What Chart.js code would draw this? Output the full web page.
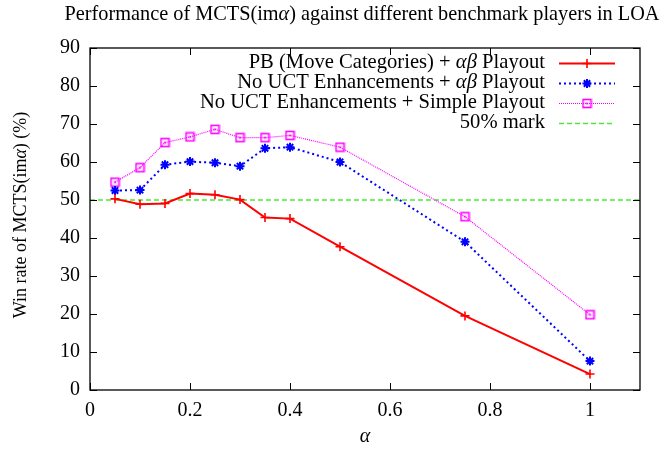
<!DOCTYPE html>
<html>
<head>
<meta charset="utf-8">
<script src="https://cdn.jsdelivr.net/npm/chart.js@4.4.1/dist/chart.umd.min.js"></script>
<style>
	html, body { margin: 0; padding: 0; background: #fff; }
	#wrap { width: 666px; height: 449px; position: relative; }
</style>
</head>
<body>
<div id="wrap"><canvas id="perf-chart" width="666" height="449"></canvas></div>
<script>
// alpha values and win rates (%)
const alphas = [0.05, 0.1, 0.15, 0.2, 0.25, 0.3, 0.35, 0.4, 0.5, 0.75, 1.0]
const pbAlphaBeta = [50.3, 48.9, 49.1, 51.7, 51.4, 50.1, 45.4, 45.1, 37.7, 19.5, 4.2]
const noUctAlphaBeta = [52.5, 52.6, 59.3, 60.1, 59.8, 58.9, 63.6, 63.9, 60.0, 39.0, 7.6]
const noUctSimple = [54.7, 58.5, 65.1, 66.6, 68.6, 66.4, 66.4, 67.0, 63.9, 45.6, 19.8]
const markX = [0, 1.1]
const markY = [50, 50]

const seriesLabels = [
	'PB (Move Categories) + αβ Playout',
	'No UCT Enhancements + αβ Playout',
	'No UCT Enhancements + Simple Playout',
	'50% mark',
]
const xTicks = [0, 0.2, 0.4, 0.6, 0.8, 1]
const yTicks = [0, 10, 20, 30, 40, 50, 60, 70, 80, 90]

const titleText = 'Performance of MCTS(imα) against different benchmark players in LOA'
const yLabel = 'Win rate of MCTS(imα) (%)'
const xLabel = 'α'

const SERIF = '"Liberation Serif", "DejaVu Serif", serif'

function pts(xs, ys) {
	return xs.map((x, i) => ({ x, y: ys[i] }))
}

// gnuplot style boxed square with a dot in the middle
function boxPoint() {
	const c = document.createElement('canvas')
	c.width = 11; c.height = 11
	const g = c.getContext('2d')
	g.strokeStyle = '#ff00ff'
	g.lineWidth = 1.6
	g.strokeRect(1.5, 1.5, 8, 8)
	g.fillStyle = '#ff00ff'
	g.fillRect(4.5, 4.5, 2, 2)
	return c
}
const boxImg = boxPoint()

// draws text with greek letters in italic
function drawMixed(ctx, text, x, y, size, align) {
	const parts = []
	for (const ch of text) {
		const greek = /[α-ω]/.test(ch)
		const last = parts[parts.length - 1]
		if (last && last.greek === greek) last.s += ch
		else parts.push({ s: ch, greek })
	}
	const fontOf = p => (p.greek ? 'italic ' : '') + size + 'px ' + SERIF
	let total = 0
	parts.forEach(p => { ctx.font = fontOf(p); p.w = ctx.measureText(p.s).width; total += p.w })
	let cx = x
	if (align === 'center') cx = x - total / 2
	else if (align === 'right') cx = x - total
	ctx.textAlign = 'left'
	ctx.textBaseline = 'middle'
	parts.forEach(p => { ctx.font = fontOf(p); ctx.fillText(p.s, cx, y); cx += p.w })
}

const framePlugin = {
	id: 'frame',
	afterDraw(chart) {
		const { ctx, chartArea: a, scales } = chart
		ctx.save()
		ctx.strokeStyle = '#000'
		ctx.lineWidth = 1.3
		ctx.strokeRect(a.left, a.top, a.right - a.left, a.bottom - a.top)
		const tl = 7
		ctx.beginPath()
		xTicks.forEach(v => {
			const px = Math.round(scales.x.getPixelForValue(v)) + 0.5
			ctx.moveTo(px, a.bottom); ctx.lineTo(px, a.bottom - tl)
			ctx.moveTo(px, a.top); ctx.lineTo(px, a.top + tl)
		})
		yTicks.forEach(v => {
			const py = Math.round(scales.y.getPixelForValue(v)) + 0.5
			ctx.moveTo(a.left, py); ctx.lineTo(a.left + tl, py)
			ctx.moveTo(a.right, py); ctx.lineTo(a.right - tl, py)
		})
		ctx.lineWidth = 1
		ctx.stroke()

		ctx.fillStyle = '#000'
		drawMixed(ctx, titleText, (a.left + a.right) / 2 - 3, 15, 20.3, 'center')
		drawMixed(ctx, xLabel, (a.left + a.right) / 2, 437, 20, 'center')
		ctx.save()
		ctx.translate(21, 215)
		ctx.rotate(-Math.PI / 2)
		drawMixed(ctx, yLabel, 0, 0, 18, 'center')
		ctx.restore()

		// key, top right, text right aligned with the sample on its right
		chart.data.datasets.forEach((ds, i) => {
			const y = 63 + i * 20
			drawMixed(ctx, seriesLabels[i], 545, y, 20.6, 'right')
			ctx.save()
			ctx.strokeStyle = ds.borderColor
			ctx.lineWidth = ds.borderWidth
			ctx.setLineDash(ds.borderDash || [])
			ctx.beginPath()
			ctx.moveTo(559, y + 0.5); ctx.lineTo(615, y + 0.5)
			ctx.stroke()
			ctx.restore()
			if (ds.pointRadius > 0) {
				const style = ds.pointStyle
				ctx.save()
				if (style instanceof HTMLCanvasElement) {
					ctx.drawImage(style, 587 - style.width / 2, y - style.height / 2 + 0.5)
				} else {
					ctx.strokeStyle = ds.borderColor
					ctx.lineWidth = ds.pointBorderWidth
					Chart.helpers.drawPoint(ctx, { pointStyle: style, radius: ds.pointRadius, borderWidth: ds.pointBorderWidth }, 587, y + 0.5)
				}
				ctx.restore()
			}
		})
		ctx.restore()
	}
}

const ctx = document.getElementById('perf-chart').getContext('2d')
new Chart(ctx, {
	type: 'line',
	data: {
		datasets: [{
			label: seriesLabels[0],
			data: pts(alphas, pbAlphaBeta),
			borderColor: '#ff0000',
			backgroundColor: '#ff0000',
			borderWidth: 2,
			pointStyle: 'cross',
			pointRadius: 4.5,
			pointBorderWidth: 1.6,
		}, {
			label: seriesLabels[1],
			data: pts(alphas, noUctAlphaBeta),
			borderColor: '#0000ff',
			backgroundColor: '#0000ff',
			borderWidth: 2,
			borderDash: [2, 3],
			pointStyle: 'star',
			pointRadius: 4.5,
			pointBorderWidth: 2,
		}, {
			label: seriesLabels[2],
			data: pts(alphas, noUctSimple),
			borderColor: '#ff00ff',
			backgroundColor: '#ff00ff',
			borderWidth: 1.2,
			borderDash: [1, 1],
			pointStyle: boxImg,
			pointRadius: 5,
			pointBorderWidth: 1,
		}, {
			label: seriesLabels[3],
			data: pts(markX, markY),
			borderColor: '#4ee83a',
			borderWidth: 1.6,
			borderDash: [5, 3],
			pointRadius: 0,
		}]
	},
	options: {
		responsive: false,
		animation: false,
		layout: { padding: { left: 0, top: 48, right: 26, bottom: 0 } },
		plugins: {
			legend: { display: false },
			title: { display: false },
			tooltip: { enabled: false },
		},
		scales: {
			x: {
				type: 'linear',
				min: 0,
				max: 1.1,
				afterBuildTicks: s => { s.ticks = xTicks.map(v => ({ value: v })) },
				afterFit: s => { s.height = 59 },
				grid: { display: false, drawTicks: false },
				border: { display: false },
				ticks: {
					padding: 9,
					color: '#000',
					font: { family: SERIF, size: 20 },
					callback: v => String(v),
				},
			},
			y: {
				min: 0,
				max: 90,
				afterBuildTicks: s => { s.ticks = yTicks.map(v => ({ value: v })) },
				afterFit: s => { s.width = 90 },
				grid: { display: false, drawTicks: false },
				border: { display: false },
				ticks: {
					padding: 10,
					color: '#000',
					font: { family: SERIF, size: 20 },
				},
			},
		},
	},
	plugins: [framePlugin],
})
</script>
</body>
</html>
